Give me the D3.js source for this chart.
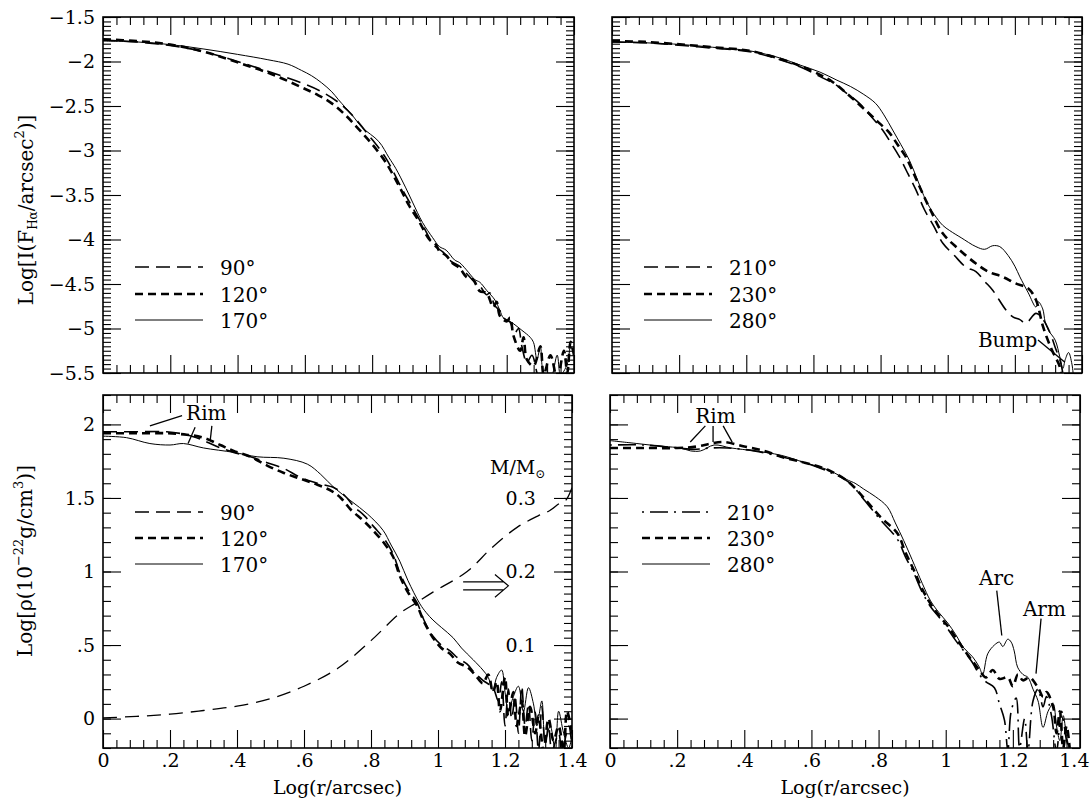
<!DOCTYPE html>
<html>
<head>
<meta charset="utf-8">
<script src="https://cdn.jsdelivr.net/npm/d3@7"></script>
<style>
  body { margin: 0; background: #fff; }
</style>
</head>
<body>
<script>
// canvas
var width = 1091;
var height = 799;
var fontFam = "DejaVu Serif, serif";

// tick values and labels
var xMajor = [0, 0.2, 0.4, 0.6, 0.8, 1.0, 1.2, 1.4];
var xLabels = ["0", ".2", ".4", ".6", ".8", "1", "1.2", "1.4"];
var topMajor = [-1.5, -2, -2.5, -3, -3.5, -4, -4.5, -5, -5.5];
var topLabels = ["\u22121.5", "\u22122", "\u22122.5", "\u22123", "\u22123.5", "\u22124", "\u22124.5", "\u22125", "\u22125.5"];
var botMajor = [0, 0.5, 1, 1.5, 2];
var botLabels = ["0", ".5", "1", "1.5", "2"];
var massMajor = [0.1, 0.2, 0.3];
var massLabels = ["0.1", "0.2", "0.3"];

// legends
var legendLeft = ["90\u00b0", "120\u00b0", "170\u00b0"];
var legendRight = ["210\u00b0", "230\u00b0", "280\u00b0"];

// top left : Log I(Halpha), [log r, value]
var tl90 = [[0,-1.76],[0.1,-1.78],[0.2,-1.82],[0.3,-1.89],[0.4,-2.0],[0.49,-2.11],[0.59,-2.24],[0.65,-2.34],[0.7,-2.46],[0.74,-2.6],[0.79,-2.83],[0.84,-3.08],[0.89,-3.44],[0.92,-3.64],[0.95,-3.84],[0.985,-4.07],[1.01,-4.14],[1.036,-4.25],[1.06,-4.3],[1.08,-4.38],[1.105,-4.48],[1.12,-4.52],[1.14,-4.62],[1.15,-4.6],[1.164,-4.74],[1.18,-4.8],[1.19,-4.88],[1.21,-4.93],[1.224,-5.05],[1.235,-5.0],[1.245,-5.2],[1.26,-5.38],[1.275,-5.3],[1.29,-5.5],[1.3,-5.62]];
var tl120 = [[0,-1.75],[0.1,-1.77],[0.2,-1.81],[0.3,-1.89],[0.4,-2.01],[0.5,-2.14],[0.59,-2.29],[0.64,-2.38],[0.68,-2.47],[0.72,-2.6],[0.76,-2.76],[0.8,-2.93],[0.84,-3.13],[0.88,-3.4],[0.91,-3.62],[0.94,-3.8],[0.97,-4.0],[0.99,-4.06],[1.0,-4.13],[1.02,-4.18],[1.04,-4.27],[1.06,-4.32],[1.08,-4.42],[1.1,-4.45],[1.12,-4.58],[1.14,-4.6],[1.16,-4.76],[1.17,-4.7],[1.18,-4.86],[1.2,-4.92],[1.21,-4.88],[1.22,-5.08],[1.24,-5.25],[1.25,-5.1],[1.26,-5.35],[1.28,-5.42],[1.3,-5.2],[1.31,-5.52],[1.33,-5.3],[1.35,-5.56],[1.37,-5.25],[1.38,-5.5],[1.39,-5.15],[1.4,-5.3]];
var tl170 = [[0,-1.77],[0.1,-1.78],[0.2,-1.81],[0.3,-1.86],[0.4,-1.92],[0.49,-1.98],[0.55,-2.03],[0.59,-2.1],[0.62,-2.16],[0.65,-2.24],[0.68,-2.34],[0.7,-2.43],[0.74,-2.6],[0.77,-2.74],[0.82,-2.9],[0.85,-3.08],[0.87,-3.2],[0.9,-3.42],[0.92,-3.58],[0.95,-3.81],[0.98,-3.98],[1.0,-4.08],[1.02,-4.12],[1.045,-4.23],[1.06,-4.26],[1.08,-4.34],[1.105,-4.45],[1.12,-4.48],[1.14,-4.57],[1.165,-4.68],[1.18,-4.8],[1.19,-4.88],[1.21,-4.92],[1.245,-5.02],[1.27,-5.1],[1.28,-5.16],[1.29,-5.35],[1.3,-5.2],[1.31,-5.5],[1.33,-5.56],[1.35,-5.3],[1.36,-5.52],[1.38,-5.4],[1.39,-5.2],[1.4,-5.3]];

// top right
var tr210 = [[0,-1.78],[0.1,-1.79],[0.21,-1.82],[0.3,-1.85],[0.41,-1.89],[0.5,-1.98],[0.56,-2.06],[0.62,-2.17],[0.666,-2.26],[0.7,-2.36],[0.737,-2.47],[0.77,-2.61],[0.806,-2.77],[0.83,-2.91],[0.856,-3.07],[0.88,-3.25],[0.905,-3.44],[0.93,-3.66],[0.96,-3.86],[0.985,-4.04],[1.02,-4.18],[1.054,-4.31],[1.084,-4.36],[1.11,-4.47],[1.134,-4.57],[1.173,-4.79],[1.194,-4.87],[1.215,-4.9],[1.233,-4.94],[1.263,-4.83],[1.284,-4.9],[1.305,-5.05],[1.32,-5.21],[1.337,-5.39],[1.345,-5.56]];
var tr230 = [[0,-1.77],[0.1,-1.78],[0.21,-1.81],[0.3,-1.84],[0.41,-1.88],[0.5,-1.97],[0.56,-2.05],[0.62,-2.15],[0.657,-2.23],[0.7,-2.36],[0.756,-2.55],[0.79,-2.67],[0.826,-2.8],[0.85,-2.93],[0.875,-3.07],[0.9,-3.27],[0.925,-3.48],[0.95,-3.68],[0.985,-3.93],[1.03,-4.1],[1.084,-4.27],[1.12,-4.36],[1.164,-4.42],[1.2,-4.49],[1.24,-4.55],[1.263,-4.68],[1.284,-4.98],[1.31,-5.24],[1.334,-5.43],[1.34,-5.56]];
var tr280 = [[0,-1.78],[0.1,-1.79],[0.21,-1.81],[0.3,-1.84],[0.41,-1.88],[0.5,-1.96],[0.56,-2.04],[0.62,-2.12],[0.67,-2.21],[0.71,-2.28],[0.75,-2.37],[0.785,-2.47],[0.81,-2.6],[0.836,-2.77],[0.86,-2.93],[0.886,-3.11],[0.91,-3.33],[0.935,-3.56],[0.96,-3.72],[0.985,-3.84],[1.006,-3.9],[1.04,-3.98],[1.084,-4.08],[1.11,-4.11],[1.134,-4.07],[1.155,-4.08],[1.18,-4.18],[1.2,-4.3],[1.215,-4.42],[1.24,-4.6],[1.263,-4.76],[1.27,-4.7],[1.283,-4.78],[1.29,-4.92],[1.3,-5.02],[1.32,-5.13],[1.334,-5.32],[1.343,-5.45],[1.35,-5.35],[1.36,-5.27],[1.37,-5.4],[1.375,-5.56]];

// bottom left : Log rho
var bl90 = [[0,1.95],[0.1,1.95],[0.19,1.95],[0.25,1.93],[0.29,1.9],[0.34,1.85],[0.39,1.81],[0.44,1.78],[0.49,1.74],[0.54,1.7],[0.59,1.64],[0.64,1.6],[0.69,1.57],[0.72,1.52],[0.75,1.44],[0.78,1.38],[0.81,1.3],[0.84,1.22],[0.866,1.12],[0.886,0.99],[0.91,0.88],[0.937,0.79],[0.96,0.66],[0.985,0.56],[1.01,0.5],[1.036,0.46],[1.06,0.41],[1.087,0.37],[1.11,0.31],[1.134,0.26],[1.164,0.21],[1.18,0.12],[1.19,0.25],[1.2,-0.05],[1.21,0.2],[1.22,0.0],[1.23,0.15],[1.24,-0.1],[1.25,0.22],[1.26,-0.05],[1.27,0.1],[1.28,-0.15],[1.29,0.05],[1.3,-0.22],[1.31,0.08],[1.32,-0.18],[1.33,-0.05],[1.34,-0.22],[1.36,-0.1],[1.37,-0.22],[1.39,-0.05],[1.4,-0.2]];
var bl120 = [[0,1.94],[0.1,1.94],[0.19,1.94],[0.25,1.93],[0.3,1.91],[0.35,1.86],[0.39,1.82],[0.44,1.78],[0.49,1.72],[0.54,1.67],[0.59,1.63],[0.64,1.59],[0.68,1.55],[0.71,1.5],[0.74,1.42],[0.78,1.34],[0.81,1.27],[0.84,1.19],[0.866,1.1],[0.886,0.97],[0.91,0.86],[0.937,0.77],[0.96,0.65],[0.985,0.55],[1.01,0.48],[1.036,0.44],[1.06,0.38],[1.087,0.35],[1.11,0.3],[1.134,0.24],[1.15,0.3],[1.164,0.18],[1.175,0.25],[1.185,0.05],[1.2,0.28],[1.21,0.02],[1.225,0.18],[1.235,-0.05],[1.25,0.12],[1.26,-0.12],[1.275,0.08],[1.29,-0.1],[1.3,0.02],[1.315,-0.22],[1.33,0.0],[1.345,-0.15],[1.36,-0.05],[1.375,-0.22],[1.385,0.05],[1.4,-0.1]];
var bl170 = [[0,1.92],[0.07,1.91],[0.14,1.87],[0.2,1.86],[0.24,1.87],[0.3,1.84],[0.39,1.81],[0.46,1.78],[0.54,1.77],[0.61,1.73],[0.65,1.66],[0.69,1.57],[0.74,1.48],[0.79,1.39],[0.836,1.28],[0.86,1.18],[0.886,1.07],[0.91,0.94],[0.946,0.78],[0.965,0.72],[0.985,0.67],[1.01,0.62],[1.045,0.55],[1.07,0.48],[1.105,0.4],[1.134,0.33],[1.15,0.28],[1.164,0.19],[1.175,0.28],[1.19,0.33],[1.2,0.18],[1.21,0.05],[1.225,0.15],[1.24,0.22],[1.255,0.05],[1.27,0.21],[1.285,0.1],[1.295,-0.05],[1.31,0.12],[1.32,-0.15],[1.335,-0.05],[1.35,-0.22],[1.36,0.05],[1.375,-0.1],[1.39,-0.2],[1.4,-0.12]];
// enclosed mass M/Msun (right axis)
var blMass = [[0,0.001],[0.1,0.003],[0.2,0.006],[0.3,0.011],[0.4,0.017],[0.5,0.027],[0.6,0.044],[0.7,0.068],[0.8,0.106],[0.886,0.143],[0.937,0.158],[0.985,0.172],[1.087,0.2],[1.16,0.232],[1.236,0.26],[1.3,0.276],[1.334,0.283],[1.364,0.293],[1.38,0.296],[1.4,0.314]];

// bottom right
var br210 = [[0,1.86],[0.1,1.86],[0.2,1.84],[0.25,1.83],[0.3,1.84],[0.35,1.84],[0.43,1.82],[0.51,1.78],[0.58,1.74],[0.65,1.68],[0.71,1.61],[0.756,1.49],[0.806,1.35],[0.856,1.22],[0.88,1.1],[0.905,0.99],[0.93,0.86],[0.955,0.76],[0.98,0.69],[1.006,0.61],[1.03,0.53],[1.054,0.46],[1.08,0.38],[1.1,0.3],[1.12,0.25],[1.145,0.21],[1.16,0.1],[1.175,-0.01],[1.185,-0.22],[1.195,0.05],[1.21,0.14],[1.22,-0.2],[1.235,0.0],[1.245,-0.22],[1.26,0.12],[1.275,0.2],[1.29,0.08],[1.3,0.15],[1.315,0.02],[1.33,-0.22],[1.345,0.05],[1.36,-0.15],[1.37,-0.22]];
var br230 = [[0,1.84],[0.1,1.84],[0.2,1.84],[0.26,1.85],[0.3,1.87],[0.34,1.88],[0.4,1.85],[0.46,1.82],[0.51,1.78],[0.58,1.74],[0.65,1.69],[0.71,1.61],[0.756,1.5],[0.806,1.37],[0.856,1.26],[0.88,1.13],[0.905,1.01],[0.93,0.88],[0.955,0.78],[0.98,0.7],[1.006,0.63],[1.03,0.55],[1.054,0.47],[1.08,0.39],[1.1,0.33],[1.12,0.28],[1.14,0.33],[1.16,0.27],[1.185,0.28],[1.2,0.22],[1.215,0.3],[1.23,0.26],[1.25,0.28],[1.275,0.21],[1.29,0.15],[1.3,0.18],[1.32,0.08],[1.33,-0.1],[1.34,0.05],[1.35,-0.2],[1.36,-0.05],[1.37,-0.22]];
var br280 = [[0,1.89],[0.08,1.87],[0.16,1.85],[0.21,1.84],[0.24,1.82],[0.27,1.82],[0.31,1.86],[0.36,1.84],[0.43,1.82],[0.51,1.79],[0.58,1.74],[0.65,1.69],[0.71,1.62],[0.73,1.6],[0.756,1.56],[0.79,1.51],[0.826,1.44],[0.85,1.33],[0.875,1.21],[0.9,1.08],[0.93,0.92],[0.955,0.8],[0.98,0.72],[1.006,0.65],[1.03,0.57],[1.054,0.48],[1.08,0.42],[1.1,0.35],[1.11,0.3],[1.125,0.44],[1.145,0.5],[1.16,0.52],[1.17,0.49],[1.185,0.54],[1.195,0.52],[1.204,0.46],[1.214,0.35],[1.23,0.3],[1.245,0.28],[1.26,0.2],[1.275,0.12],[1.29,-0.06],[1.305,0.05],[1.32,0.1],[1.33,-0.05],[1.34,-0.15],[1.35,0.02],[1.36,-0.12],[1.37,-0.22]];

// line styles
var sLong = { w: 1.6, dash: "14,7" };
var sShort = { w: 2.6, dash: "8,5" };
var sSolid = { w: 1, dash: null };
var sDashDot = { w: 1.6, dash: "2,6,18,6" };

// panel layout
var panels = [
  { id: "tl", x0: 103, x1: 574, y0: 17, y1: 373, yDom: [-5.5, -1.5], top: true, labels: true,
    series: [[tl90, sLong], [tl120, sShort], [tl170, sSolid]], legend: legendLeft, lstyles: [sLong, sShort, sSolid] },
  { id: "tr", x0: 612, x1: 1082, y0: 17, y1: 373, yDom: [-5.5, -1.5], top: true, labels: false,
    series: [[tr210, sLong], [tr230, sShort], [tr280, sSolid]], legend: legendRight, lstyles: [sLong, sShort, sSolid] },
  { id: "bl", x0: 103, x1: 572, y0: 395, y1: 748, yDom: [-0.2, 2.2], top: false, labels: true,
    series: [[bl90, sLong], [bl120, sShort], [bl170, sSolid]], legend: legendLeft, lstyles: [sLong, sShort, sSolid] },
  { id: "br", x0: 610, x1: 1080, y0: 395, y1: 748, yDom: [-0.2, 2.2], top: false, labels: false,
    series: [[br210, sDashDot], [br230, sShort], [br280, sSolid]], legend: legendRight, lstyles: [sDashDot, sShort, sSolid] }
];

var xMinor = d3.range(0, 1.4001, 0.04).filter(function(d) { return Math.abs(d / 0.2 - Math.round(d / 0.2)) > 0.01; });
var topMinor = d3.range(-5.5, -1.4999, 0.05);
var botMinor = d3.range(-0.2, 2.2001, 0.1);
var massMinor = d3.range(-0.04, 0.4401, 0.01);

var svg = d3.select("body").append("svg")
    .attr("width", width)
    .attr("height", height)
    .style("font-family", fontFam);

function styleAxis(g) {
  g.select(".domain").remove();
  g.attr("font-family", fontFam).attr("font-size", 19);
  g.selectAll("line").attr("stroke", "#000").attr("stroke-width", 1.1);
  g.selectAll("text").attr("fill", "#000");
}

var scales = {};

panels.forEach(function(p) {
  var x = d3.scaleLinear().domain([0, 1.4]).range([p.x0, p.x1]);
  var y = d3.scaleLinear().domain(p.yDom).range([p.y1, p.y0]);
  scales[p.id] = { x: x, y: y };
  var yMajor = p.top ? topMajor : botMajor;
  var yMinor = p.top ? topMinor : botMinor;

  // clip region
  svg.append("clipPath").attr("id", "clip-" + p.id)
    .append("rect")
    .attr("x", p.x0).attr("y", p.y0)
    .attr("width", p.x1 - p.x0).attr("height", p.y1 - p.y0);

  // x ticks bottom and top
  svg.append("g").attr("transform", "translate(0," + p.y1 + ")")
    .call(d3.axisBottom(x).tickValues(xMinor).tickSize(-8).tickFormat(""))
    .call(styleAxis);
  var xb = d3.axisBottom(x).tickValues(xMajor).tickSize(-18).tickPadding(6);
  if (!p.top) xb.tickFormat(function(d, i) { return xLabels[i]; });
  else xb.tickFormat("");
  var xg = svg.append("g").attr("transform", "translate(0," + p.y1 + ")").call(xb).call(styleAxis);
  if (p.id === "br") {
    // keep the last label inside the page
    xg.selectAll(".tick text").filter(function(d) { return d === 1.4; })
      .attr("text-anchor", "end").attr("x", 9);
  }
  svg.append("g").attr("transform", "translate(0," + p.y0 + ")")
    .call(d3.axisTop(x).tickValues(xMinor).tickSize(-8).tickFormat(""))
    .call(styleAxis);
  svg.append("g").attr("transform", "translate(0," + p.y0 + ")")
    .call(d3.axisTop(x).tickValues(xMajor).tickSize(-18).tickFormat(""))
    .call(styleAxis);

  // y ticks left
  svg.append("g").attr("transform", "translate(" + p.x0 + ",0)")
    .call(d3.axisLeft(y).tickValues(yMinor).tickSize(-8).tickFormat(""))
    .call(styleAxis);
  var yl = d3.axisLeft(y).tickValues(yMajor).tickSize(-18).tickPadding(8);
  if (p.labels) yl.tickFormat(function(d, i) { return (p.top ? topLabels : botLabels)[i]; });
  else yl.tickFormat("");
  svg.append("g").attr("transform", "translate(" + p.x0 + ",0)").call(yl).call(styleAxis);

  // y ticks right
  if (p.id === "bl") {
    var m = d3.scaleLinear().domain([p.yDom[0] / 5, p.yDom[1] / 5]).range([p.y1, p.y0]);
    scales[p.id].m = m;
    svg.append("g").attr("transform", "translate(" + p.x1 + ",0)")
      .call(d3.axisRight(m).tickValues(massMinor).tickSize(-8).tickFormat(""))
      .call(styleAxis);
    svg.append("g").attr("transform", "translate(" + p.x1 + ",0)")
      .call(d3.axisRight(m).tickValues([0].concat(massMajor)).tickSize(-18).tickFormat(""))
      .call(styleAxis);
  } else {
    svg.append("g").attr("transform", "translate(" + p.x1 + ",0)")
      .call(d3.axisRight(y).tickValues(yMinor).tickSize(-8).tickFormat(""))
      .call(styleAxis);
    svg.append("g").attr("transform", "translate(" + p.x1 + ",0)")
      .call(d3.axisRight(y).tickValues(yMajor).tickSize(-18).tickFormat(""))
      .call(styleAxis);
  }

  // frame
  svg.append("rect")
    .attr("x", p.x0).attr("y", p.y0)
    .attr("width", p.x1 - p.x0).attr("height", p.y1 - p.y0)
    .attr("fill", "none").attr("stroke", "#000").attr("stroke-width", 1.6);

  // profiles
  var line = d3.line()
    .x(function(d) { return x(d[0]); })
    .y(function(d) { return y(d[1]); })
    .curve(d3.curveCatmullRom.alpha(0.5));
  var lg = svg.append("g").attr("clip-path", "url(#clip-" + p.id + ")");
  p.series.forEach(function(s) {
    lg.append("path")
      .attr("d", line(s[0]))
      .attr("fill", "none")
      .attr("stroke", "#000")
      .attr("stroke-width", s[1].w)
      .attr("stroke-dasharray", s[1].dash)
      .attr("stroke-linejoin", "round");
  });

  // legend
  var rows = p.top ? [250, 277, 303] : [117, 143, 169];
  p.legend.forEach(function(t, i) {
    var st = p.lstyles[i];
    svg.append("line")
      .attr("x1", p.x0 + 32).attr("x2", p.x0 + 100)
      .attr("y1", p.y0 + rows[i]).attr("y2", p.y0 + rows[i])
      .attr("stroke", "#000")
      .attr("stroke-width", st.w)
      .attr("stroke-dasharray", st.dash);
    svg.append("text")
      .attr("x", p.x0 + 117).attr("y", p.y0 + rows[i] + 8)
      .attr("font-size", 20)
      .text(t);
  });
});

// mass curve on bottom left, plotted against the right axis
var sbl = scales.bl;
var massLine = d3.line()
  .x(function(d) { return sbl.x(d[0]); })
  .y(function(d) { return sbl.m(d[1]); })
  .curve(d3.curveCatmullRom.alpha(0.5));
svg.append("g").attr("clip-path", "url(#clip-bl)")
  .append("path")
  .attr("d", massLine(blMass))
  .attr("fill", "none")
  .attr("stroke", "#000")
  .attr("stroke-width", 1.3)
  .attr("stroke-dasharray", "14,8");

// mass axis labels
massMajor.forEach(function(v, i) {
  svg.append("text")
    .attr("x", sbl.x(1.292)).attr("y", sbl.m(v))
    .attr("dy", "0.35em")
    .attr("text-anchor", "end")
    .attr("font-size", 19)
    .text(massLabels[i]);
});
var mt = svg.append("text")
  .attr("x", sbl.x(1.155)).attr("y", sbl.y(1.66))
  .attr("font-size", 19);
mt.append("tspan").text("M/M");
mt.append("tspan").attr("font-size", 12).attr("dy", 4).text("\u2299");

// double arrow pointing to the mass axis
var arrow = d3.path();
arrow.moveTo(sbl.x(1.075), sbl.y(0.93)); arrow.lineTo(sbl.x(1.195), sbl.y(0.93));
arrow.moveTo(sbl.x(1.075), sbl.y(0.875)); arrow.lineTo(sbl.x(1.195), sbl.y(0.875));
arrow.moveTo(sbl.x(1.17), sbl.y(0.98)); arrow.lineTo(sbl.x(1.21), sbl.y(0.9025)); arrow.lineTo(sbl.x(1.17), sbl.y(0.825));
svg.append("path").attr("d", arrow.toString())
  .attr("fill", "none").attr("stroke", "#000").attr("stroke-width", 1.2);

// annotations
function note(sc, txt, tx, ty, segs) {
  svg.append("text")
    .attr("x", sc.x(tx)).attr("y", sc.y(ty))
    .attr("font-size", 20)
    .text(txt);
  segs.forEach(function(s) {
    svg.append("line")
      .attr("x1", sc.x(s[0])).attr("y1", sc.y(s[1]))
      .attr("x2", sc.x(s[2])).attr("y2", sc.y(s[3]))
      .attr("stroke", "#000").attr("stroke-width", 1.3);
  });
}
note(scales.bl, "Rim", 0.248, 2.03, [[0.236, 2.06, 0.14, 1.99], [0.275, 1.98, 0.254, 1.87], [0.325, 1.99, 0.32, 1.89]]);
note(scales.br, "Rim", 0.254, 2.01, [[0.284, 1.99, 0.239, 1.88], [0.307, 1.99, 0.307, 1.88], [0.337, 1.99, 0.364, 1.88]]);
note(scales.br, "Arc", 1.099, 0.905, [[1.152, 0.87, 1.167, 0.565]]);
note(scales.br, "Arm", 1.23, 0.7, [[1.284, 0.68, 1.269, 0.306]]);
note(scales.tr, "Bump", 1.09, -5.21, [[1.269, -5.13, 1.349, -5.38]]);

// x axis titles
[scales.bl, scales.br].forEach(function(sc) {
  svg.append("text")
    .attr("x", sc.x(0.7)).attr("y", 794)
    .attr("text-anchor", "middle")
    .attr("font-size", 19)
    .text("Log(r/arcsec)");
});

// y axis titles
var yt1 = svg.append("text")
  .attr("transform", "translate(33,210) rotate(-90)")
  .attr("text-anchor", "middle")
  .attr("font-size", 20);
yt1.append("tspan").text("Log[I(F");
yt1.append("tspan").attr("font-size", 12).attr("dy", 4).text("H\u03b1");
yt1.append("tspan").attr("dy", -4).text("/arcsec");
yt1.append("tspan").attr("font-size", 13).attr("dy", -9).text("2");
yt1.append("tspan").attr("dy", 9).text(")]");

var yt2 = svg.append("text")
  .attr("transform", "translate(32,561) rotate(-90)")
  .attr("text-anchor", "middle")
  .attr("font-size", 20);
yt2.append("tspan").text("Log[\u03c1(10");
yt2.append("tspan").attr("font-size", 13).attr("dy", -9).text("\u221222");
yt2.append("tspan").attr("dy", 9).text("g/cm");
yt2.append("tspan").attr("font-size", 13).attr("dy", -9).text("3");
yt2.append("tspan").attr("dy", 9).text(")]");
</script>
</body>
</html>
